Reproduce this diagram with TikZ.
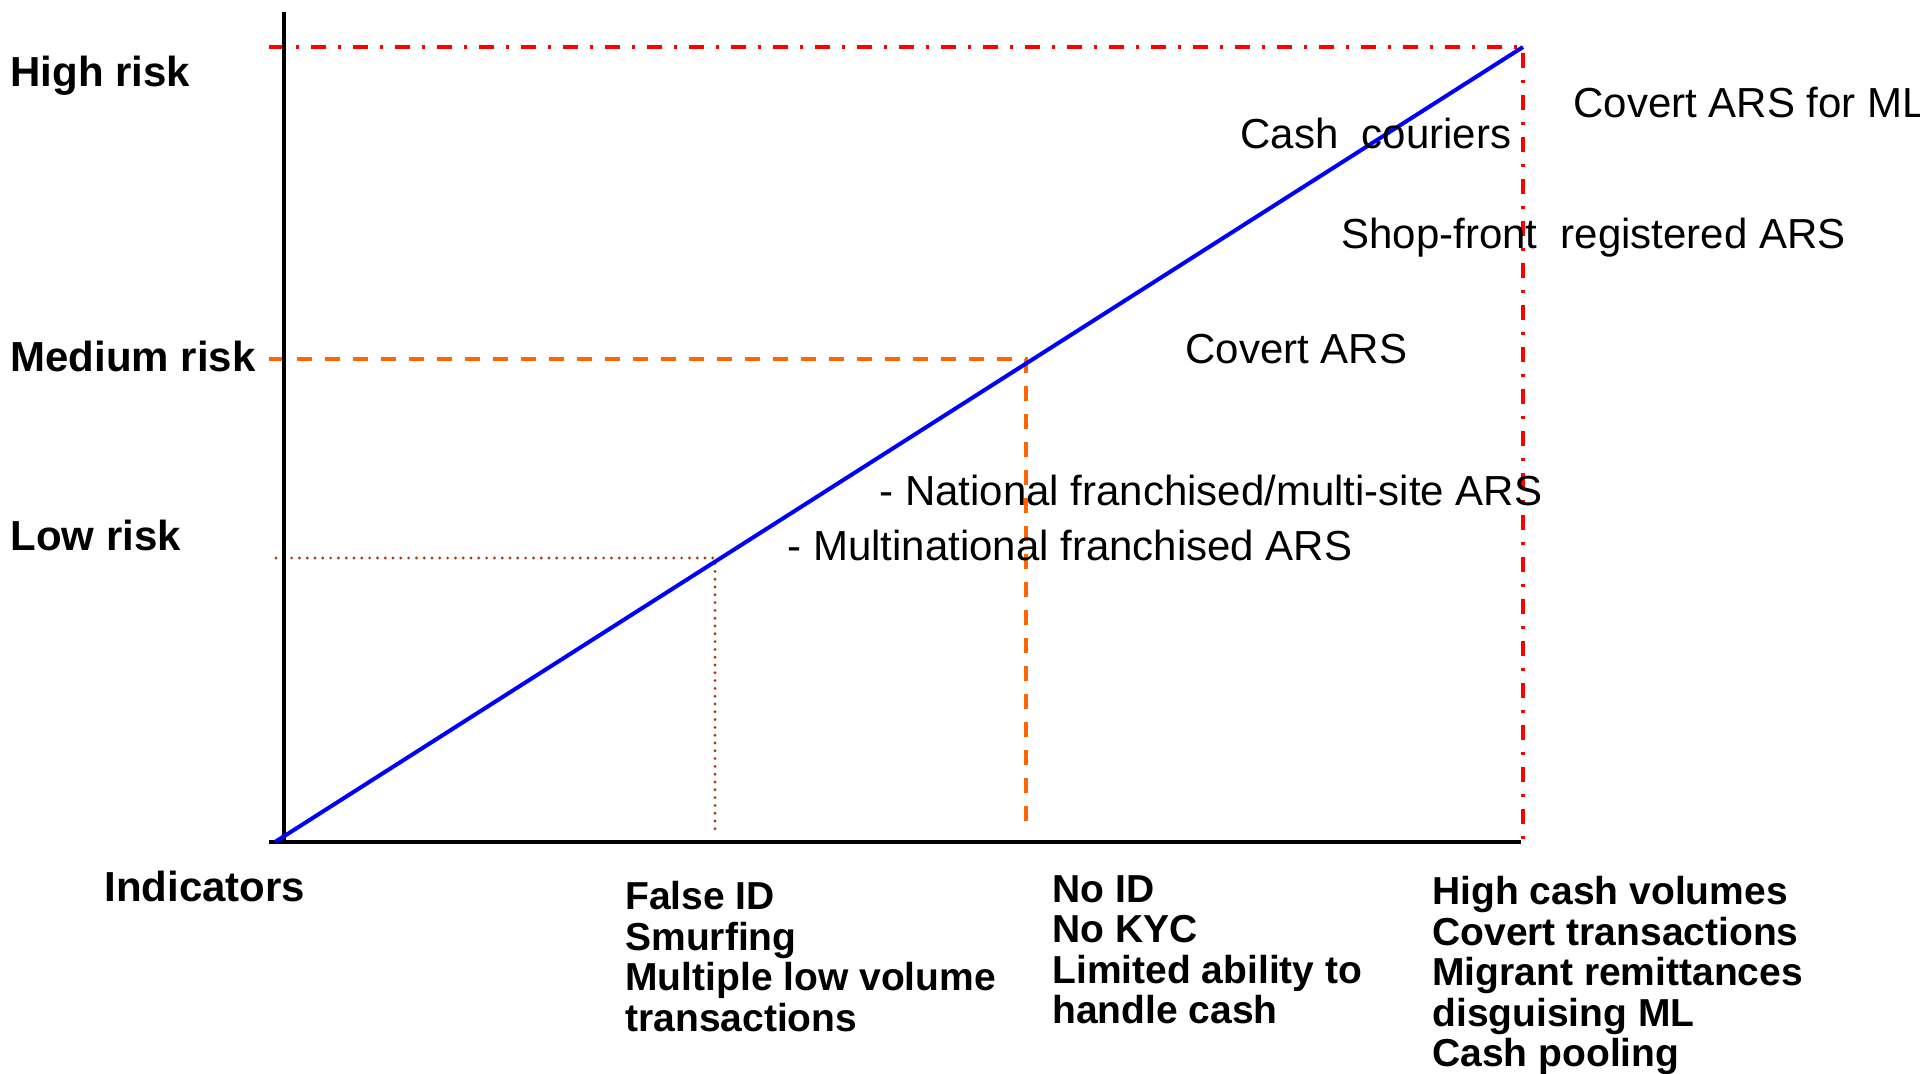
\documentclass[tikz,border=0pt]{standalone}
\usepackage{fontspec}
\setmainfont{Liberation Sans}

\definecolor{riskred}{RGB}{255,0,0}
\definecolor{riskorange}{RGB}{255,102,0}
\definecolor{riskbrown}{RGB}{165,66,18}

\begin{document}
\begin{tikzpicture}[x=0.5pt,y=-0.5pt,
  axis/.style={line width=1.9pt,black},
  riskline/.style={line width=2pt,blue},
  highguide/.style={line width=1.9pt,riskred,dash pattern=on 7.5pt off 6pt on 1.5pt off 6pt},
  midguide/.style={line width=1.9pt,riskorange,dash pattern=on 7.5pt off 6.5pt},
  lowguide/.style={line width=1.6pt,riskbrown,line cap=round,dash pattern=on 0pt off 3.9pt},
  level/.style={anchor=base west,inner sep=0pt,font=\bfseries\fontsize{21}{25}\selectfont},
  channel/.style={anchor=base west,inner sep=0pt,font=\fontsize{21}{25}\selectfont},
  indicator/.style={anchor=north west,inner sep=0pt,align=left,font=\bfseries\fontsize{19.5}{20.25}\selectfont}]
\useasboundingbox (0,0) rectangle (1920,1074);
% ---------- points ----------
\coordinate (ytop) at (284,12);
\coordinate (ybot) at (284,842);
\coordinate (xleft) at (269,842);
\coordinate (xright) at (1521,842);
\coordinate (start) at (275,842);
\coordinate (high) at (1523,47);
\coordinate (mid) at (1026,359);
\coordinate (low) at (715,558);
% ---------- guides ----------
\draw[highguide] (269,47) -- (high) -- (1523,842);
\draw[midguide] (269,359) -- (mid) -- (1026,832);
\draw[lowguide] (276,558) -- (low) -- (715,834);
% ---------- axes ----------
\draw[axis] (ytop) -- (ybot);
\draw[axis] (xleft) -- (xright);
\draw[riskline] (start) -- (high);
% ---------- risk levels ----------
\node[level] (hrisk) at (10,87) {High risk};
\node[level] (mrisk) at (10,372) {Medium risk};
\node[level] (lrisk) at (10,550) {Low risk};
\node[level] (ind) at (104,901) {Indicators};
% ---------- ARS types ----------
\node[channel] (covml) at (1573,118) {Covert ARS for ML};
\node[channel] (cash) at (1240,149) {Cash\ \ couriers};
\node[channel] (shop) at (1341,249) {Shop-front\ \ registered ARS};
\node[channel] (covert) at (1185,364) {Covert ARS};
\node[channel] (national) at (879,505) {- National franchised/multi-site ARS};
\node[channel] (multi) at (787,560) {- Multinational franchised ARS};
% ---------- indicators ----------
\node[indicator] (lowind) at (625,881) {False ID\\Smurfing\\Multiple low volume\\transactions};
\node[indicator] (midind) at (1052,875) {No ID\\No KYC\\Limited ability to\\handle cash};
\node[indicator] (highind) at (1432,876) {High cash volumes\\Covert transactions\\Migrant remittances\\disguising ML\\Cash pooling};
\end{tikzpicture}
\end{document}
